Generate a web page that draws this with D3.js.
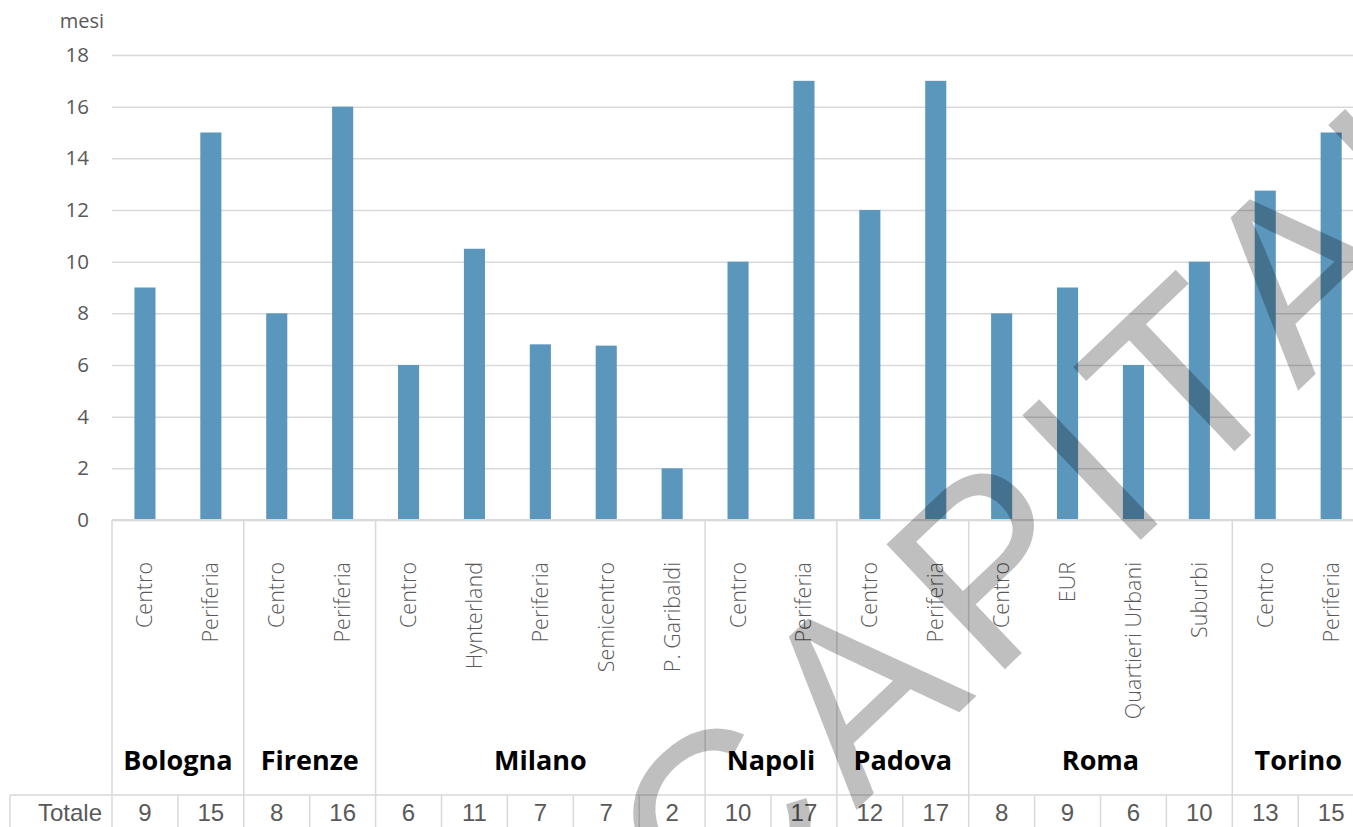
<!DOCTYPE html>
<html><head><meta charset="utf-8">
<script src="https://cdn.jsdelivr.net/npm/d3@7"></script>
<style>body{margin:0;background:#fff} svg{display:block}</style>
</head><body>
<svg id="chart" width="1353" height="827"></svg>
<script>
const groups = ["Bologna","Firenze","Milano","Napoli","Padova","Roma","Torino"];
const groupOf = ["Bologna","Bologna","Firenze","Firenze","Milano","Milano","Milano","Milano","Milano","Napoli","Napoli","Padova","Padova","Roma","Roma","Roma","Roma","Torino","Torino"];
const zones = ["Centro","Periferia","Centro","Periferia","Centro","Hynterland","Periferia","Semicentro","P. Garibaldi","Centro","Periferia","Centro","Periferia","Centro","EUR","Quartieri Urbani","Suburbi","Centro","Periferia"];
const values = [9,15,8,16,6,10.5,6.8,6.75,2,10,17,12,17,8,9,6,10,12.75,15];
const totals = ["9","15","8","16","6","11","7","7","2","10","17","12","17","8","9","6","10","13","15"];
const yTicks = [0,2,4,6,8,10,12,14,16,18];
const yLabel = "mesi";
const rowLabel = "Totale";
const watermark = "CAPITAL";

(function () {
const svg = d3.select("#chart");
const left = 112, step = 65.9, plotTop = 55, base = 520;
const keys = d3.range(zones.length);
const x = d3.scaleBand().domain(keys).range([left, left + step * keys.length]).padding(0);
const y = d3.scaleLinear().domain([0, 18]).range([base, plotTop]);
const right = x.range()[1];
const gray = "#595959", lineC = "#d9d9d9";
const bw = x.bandwidth() * 0.32;

// grid + y axis
const ya = svg.append("g").attr("transform", `translate(${left},0)`)
  .call(d3.axisLeft(y).tickValues(yTicks).tickSize(-(right - left)).tickPadding(23).tickFormat(d3.format("d")));
ya.select(".domain").remove();
ya.selectAll(".tick line").attr("stroke", lineC).attr("stroke-width", 1.5);
ya.selectAll(".tick text").attr("fill", gray).attr("font-family", "'Open Sans', sans-serif").attr("font-size", 20.5);

svg.append("text").attr("x", 104).attr("y", 28).attr("text-anchor", "end")
  .attr("fill", gray).attr("font-family", "'Open Sans', sans-serif").attr("font-size", 20).text(yLabel);

// bars
svg.append("g").selectAll("rect").data(keys).join("rect")
  .attr("x", i => x(i) + (x.bandwidth() - bw) / 2)
  .attr("width", bw)
  .attr("y", i => y(values[i]))
  .attr("height", i => y(0) - y(values[i]))
  .attr("fill", "#5B97BD");

// baseline
svg.append("line").attr("x1", left).attr("x2", right).attr("y1", base).attr("y2", base)
  .attr("stroke", lineC).attr("stroke-width", 2);

// category table
const tableTop = 795;
const lines = svg.append("g").attr("stroke", lineC).attr("stroke-width", 1.5);
lines.append("line").attr("x1", 10).attr("x2", right).attr("y1", tableTop).attr("y2", tableTop);
lines.append("line").attr("x1", 10).attr("x2", 10).attr("y1", tableTop).attr("y2", 827);
keys.forEach(i => {
  const xx = x(i);
  const isGroupStart = i === 0 || groupOf[i] !== groupOf[i - 1];
  lines.append("line").attr("x1", xx).attr("x2", xx)
    .attr("y1", isGroupStart ? base : tableTop).attr("y2", 827);
});

// zone labels
svg.append("g").selectAll("text").data(keys).join("text")
  .attr("transform", i => `translate(${x(i) + x.bandwidth() / 2},562) rotate(-90)`)
  .attr("dy", "0.35em").attr("text-anchor", "end")
  .attr("fill", gray).attr("font-family", "'Open Sans', sans-serif").attr("font-weight", 300).attr("font-size", 21.5)
  .text(i => zones[i]);

// group labels
groups.forEach(g => {
  const idx = keys.filter(i => groupOf[i] === g);
  const cx = (x(idx[0]) + x(idx[idx.length - 1]) + x.bandwidth()) / 2;
  svg.append("text").attr("x", cx).attr("y", 770).attr("text-anchor", "middle")
    .attr("font-family", "'Open Sans', sans-serif").attr("font-weight", 700).attr("font-size", 27)
    .attr("fill", "#000").text(g);
});

// totals row
svg.append("text").attr("x", 102).attr("y", 821).attr("text-anchor", "end")
  .attr("fill", gray).attr("font-family", "'Liberation Sans', Arial, sans-serif").attr("font-size", 24).text(rowLabel);
svg.append("g").selectAll("text").data(keys).join("text")
  .attr("x", i => x(i) + x.bandwidth() / 2).attr("y", 821).attr("text-anchor", "middle")
  .attr("fill", gray).attr("font-family", "'Liberation Sans', Arial, sans-serif").attr("font-size", 24)
  .text(i => totals[i]);

// watermark
svg.append("text")
  .attr("transform", "translate(712,947) rotate(-43.5)")
  .attr("text-anchor", "start").attr("letter-spacing", 18)
  .attr("font-family", "'Liberation Sans', Arial, sans-serif").attr("font-size", 250)
  .attr("fill", "#000").attr("fill-opacity", 0.25).text(watermark);
})();
</script>
</body></html>
